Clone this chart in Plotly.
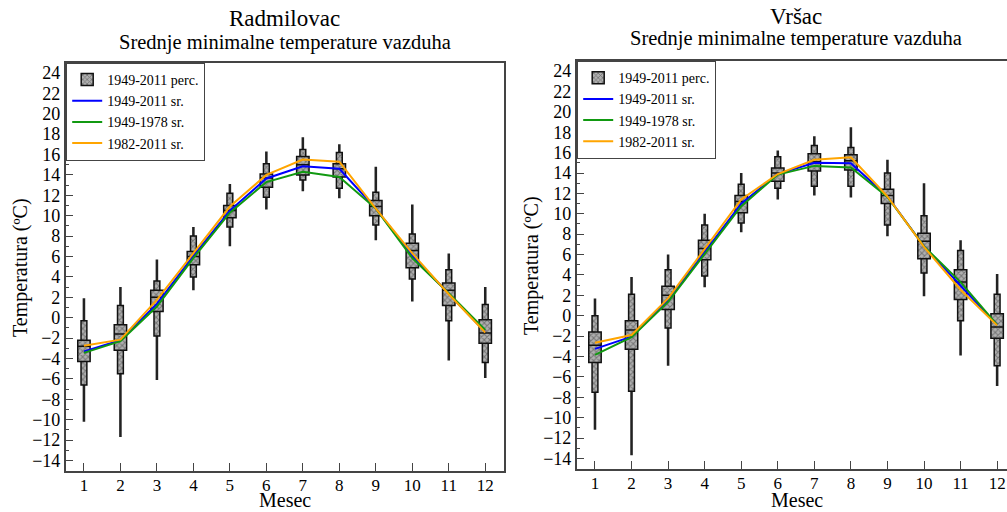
import plotly.graph_objects as go

months = list(range(1, 13))

# Radmilovac – percentiles (min, 10, 25, median, 75, 90, max)
r_min = [-10.2, -11.7, -6.1, 2.7, 7.0, 10.6, 12.4, 11.7, 7.6, 1.6, -4.2, -5.9]
r_p10 = [-6.6, -5.5, -1.8, 4.0, 8.9, 11.8, 13.5, 12.7, 9.1, 3.8, -0.3, -4.4]
r_p25 = [-4.3, -3.2, 0.6, 5.2, 9.8, 12.8, 14.0, 13.8, 10.0, 4.9, 1.2, -2.5]
r_med = [-2.8, -1.6, 2.0, 6.0, 10.5, 13.7, 15.0, 14.6, 10.9, 6.6, 2.7, -1.5]
r_p75 = [-2.2, -0.7, 2.7, 6.5, 11.0, 14.1, 15.8, 15.1, 11.5, 7.3, 3.4, -0.2]
r_p90 = [-0.3, 1.2, 3.6, 8.0, 12.2, 15.1, 16.5, 16.2, 12.3, 8.2, 4.7, 1.3]
r_max = [1.9, 3.0, 5.7, 8.9, 13.1, 16.3, 17.7, 17.0, 14.8, 11.1, 6.3, 3.0]
# Radmilovac – means
r_all = [-3.3, -2.2, 1.35, 6.05, 10.5, 13.65, 14.85, 14.6, 10.7, 6.1, 2.35, -1.4]
r_old = [-3.45, -2.3, 1.1, 5.85, 10.3, 13.3, 14.3, 13.8, 10.7, 5.85, 2.4, -1.2]
r_new = [-2.75, -2.15, 1.75, 6.35, 10.9, 14.0, 15.5, 15.3, 10.7, 6.3, 2.3, -1.45]

# Vršac – percentiles
v_min = [-11.2, -13.7, -4.9, 2.8, 8.2, 11.4, 11.8, 11.6, 7.8, 1.9, -3.9, -6.9]
v_p10 = [-7.5, -7.4, -1.2, 3.9, 9.1, 12.5, 12.7, 12.7, 8.9, 4.2, -0.5, -4.9]
v_p25 = [-4.6, -3.3, 0.6, 5.5, 10.1, 13.2, 14.2, 14.3, 11.0, 5.6, 1.6, -2.2]
v_med = [-2.9, -1.4, 2.0, 6.6, 11.2, 14.0, 15.1, 15.2, 11.8, 7.3, 3.3, -1.1]
v_p75 = [-1.6, -0.5, 2.9, 7.4, 11.8, 14.5, 15.9, 15.8, 12.4, 8.1, 4.5, 0.2]
v_p90 = [0.0, 2.1, 4.5, 8.9, 12.9, 15.6, 16.7, 16.5, 14.0, 9.8, 6.4, 2.1]
v_max = [1.7, 3.8, 6.0, 10.0, 14.0, 16.2, 17.6, 18.5, 15.3, 13.0, 7.4, 4.1]
# Vršac – means
v_all = [-3.25, -2.05, 1.5, 6.3, 11.0, 13.9, 15.0, 14.95, 11.7, 6.8, 2.9, -0.9]
v_old = [-3.85, -2.1, 1.35, 6.1, 10.75, 13.85, 14.7, 14.55, 11.65, 6.8, 3.3, -0.9]
v_new = [-2.65, -1.9, 1.7, 6.6, 11.4, 13.9, 15.3, 15.55, 11.7, 6.75, 2.55, -0.95]

y_ticks = list(range(-14, 26, 2))
x_ticks = months

labels = ["1949-2011 perc.", "1949-2011 sr.", "1949-1978 sr.", "1982-2011 sr."]
titles = ["Radmilovac", "Vršac"]
subtitle = "Srednje minimalne temperature vazduha"

FONT = "Liberation Serif, Times New Roman, serif"
W, H = 1007, 512
INNER_W, OUTER_W, WHISK_W = 0.34, 0.16, 0.07
pattern = dict(shape="x", size=4, solidity=0.45, fgcolor="#3a3a3a", bgcolor="#b0b0b0")
line_cols = ["#0000ff", "#119911", "#ffa500"]

fig = go.Figure()


def add_panel(xa, ya, legend, pmin, p10, p25, pmed, p75, p90, pmax, m_all, m_old, m_new):
    # whiskers
    fig.add_trace(go.Bar(x=months, y=[b - a for a, b in zip(pmin, pmax)], base=pmin,
                         width=WHISK_W, marker=dict(color="#222222", line=dict(width=0)),
                         xaxis=xa, yaxis=ya, showlegend=False, hoverinfo="skip"))
    # outer (10-90)
    fig.add_trace(go.Bar(x=months, y=[b - a for a, b in zip(p10, p90)], base=p10,
                         width=OUTER_W,
                         marker=dict(color="#909090", pattern=pattern,
                                     line=dict(color="#111111", width=1.5)),
                         xaxis=xa, yaxis=ya, showlegend=False, hoverinfo="skip"))
    # inner (25-75)
    fig.add_trace(go.Bar(x=months, y=[b - a for a, b in zip(p25, p75)], base=p25,
                         width=INNER_W, name=labels[0], legend=legend,
                         marker=dict(color="#909090", pattern=pattern,
                                     line=dict(color="#111111", width=1.5)),
                         xaxis=xa, yaxis=ya, showlegend=True, hoverinfo="skip"))
    # medians
    mx, my = [], []
    for m, v in zip(months, pmed):
        mx += [m - INNER_W / 2, m + INNER_W / 2, None]
        my += [v, v, None]
    fig.add_trace(go.Scatter(x=mx, y=my, mode="lines", line=dict(color="#111111", width=1.5),
                             xaxis=xa, yaxis=ya, showlegend=False, hoverinfo="skip"))
    for vals, name, col in zip([m_all, m_old, m_new], labels[1:], line_cols):
        fig.add_trace(go.Scatter(x=months, y=vals, mode="lines", name=name, legend=legend,
                                 line=dict(color=col, width=2),
                                 xaxis=xa, yaxis=ya))


add_panel("x", "y", "legend", r_min, r_p10, r_p25, r_med, r_p75, r_p90, r_max, r_all, r_old, r_new)
add_panel("x2", "y2", "legend2", v_min, v_p10, v_p25, v_med, v_p75, v_p90, v_max, v_all, v_old, v_new)

axcol = "#444444"
tickfont = dict(family=FONT, size=18, color="black")
xtickfont = dict(family=FONT, size=17, color="black")


def xaxis(domain, rng, anchor):
    return dict(domain=domain, range=rng, tickvals=x_ticks, ticks="inside", ticklen=8,
                tickwidth=1.2, tickcolor=axcol, showline=True, linecolor=axcol, linewidth=1.5,
                mirror=True, showgrid=False, zeroline=False, tickfont=xtickfont, anchor=anchor,
                ticklabelstandoff=-2)


def yaxis(domain, anchor, mirror):
    return dict(domain=domain, range=[-15, 25], tickvals=y_ticks, ticks="inside", ticklen=8,
                tickwidth=1.2, tickcolor=axcol, showline=True, linecolor=axcol, linewidth=1.5,
                mirror=mirror, showgrid=False, zeroline=False, tickfont=tickfont, anchor=anchor,
                minor=dict(ticks="inside", ticklen=4, dtick=1, tick0=0, tickcolor=axcol, tickwidth=1.2))


x1d = [65.7 / W, 503.5 / W]
x2d = [576.7 / W, 1.0]
y1d = [1 - 470.7 / H, 1 - 62.7 / H]
y2d = [1 - 468.6 / H, 1 - 60.9 / H]

legend_style = dict(font=dict(family=FONT, size=14, color="black"), bgcolor="white",
                    bordercolor=axcol, borderwidth=1.2, xanchor="left", yanchor="top",
                    itemwidth=30, tracegroupgap=0)

annotations = []
for cx, ty, sy, xt, yx, yy, t in [
    (284.5, 18, 42, 285, 20, 268, titles[0]),
    (796, 16, 38, 797, 531, 266, titles[1]),
]:
    annotations += [
        dict(text=t, x=cx / W, y=1 - ty / H, xref="paper", yref="paper", showarrow=False,
             font=dict(family=FONT, size=23, color="black"), xanchor="center", yanchor="middle"),
        dict(text=subtitle, x=cx / W, y=1 - sy / H, xref="paper", yref="paper", showarrow=False,
             font=dict(family=FONT, size=20.5, color="black"), xanchor="center", yanchor="middle"),
        dict(text="Mesec", x=xt / W, y=0, xref="paper", yref="paper", showarrow=False,
             font=dict(family=FONT, size=20, color="black"), xanchor="center", yanchor="bottom",
             borderpad=0),
        dict(text="Temperatura (ºC)", x=yx / W, y=1 - yy / H, xref="paper", yref="paper",
             showarrow=False, textangle=-90,
             font=dict(family=FONT, size=20, color="black"), xanchor="center", yanchor="middle"),
    ]

fig.update_layout(
    width=W, height=H, margin=dict(l=0, r=0, t=0, b=0),
    paper_bgcolor="white", plot_bgcolor="white", barmode="overlay",
    xaxis=xaxis(x1d, [0.5, 12.5], "y"), yaxis=yaxis(y1d, "x", True),
    xaxis2=xaxis(x2d, [0.5, 12.27], "y2"), yaxis2=yaxis(y2d, "x2", False),
    legend=dict(x=66 / W, y=1 - 62.7 / H, **legend_style),
    legend2=dict(x=577 / W, y=1 - 60.9 / H, **legend_style),
    annotations=annotations,
    font=dict(family=FONT),
)

fig.write_html("out.html", config={"displayModeBar": False},
               post_script="document.body.style.margin='0px';document.body.style.overflow='hidden';")
